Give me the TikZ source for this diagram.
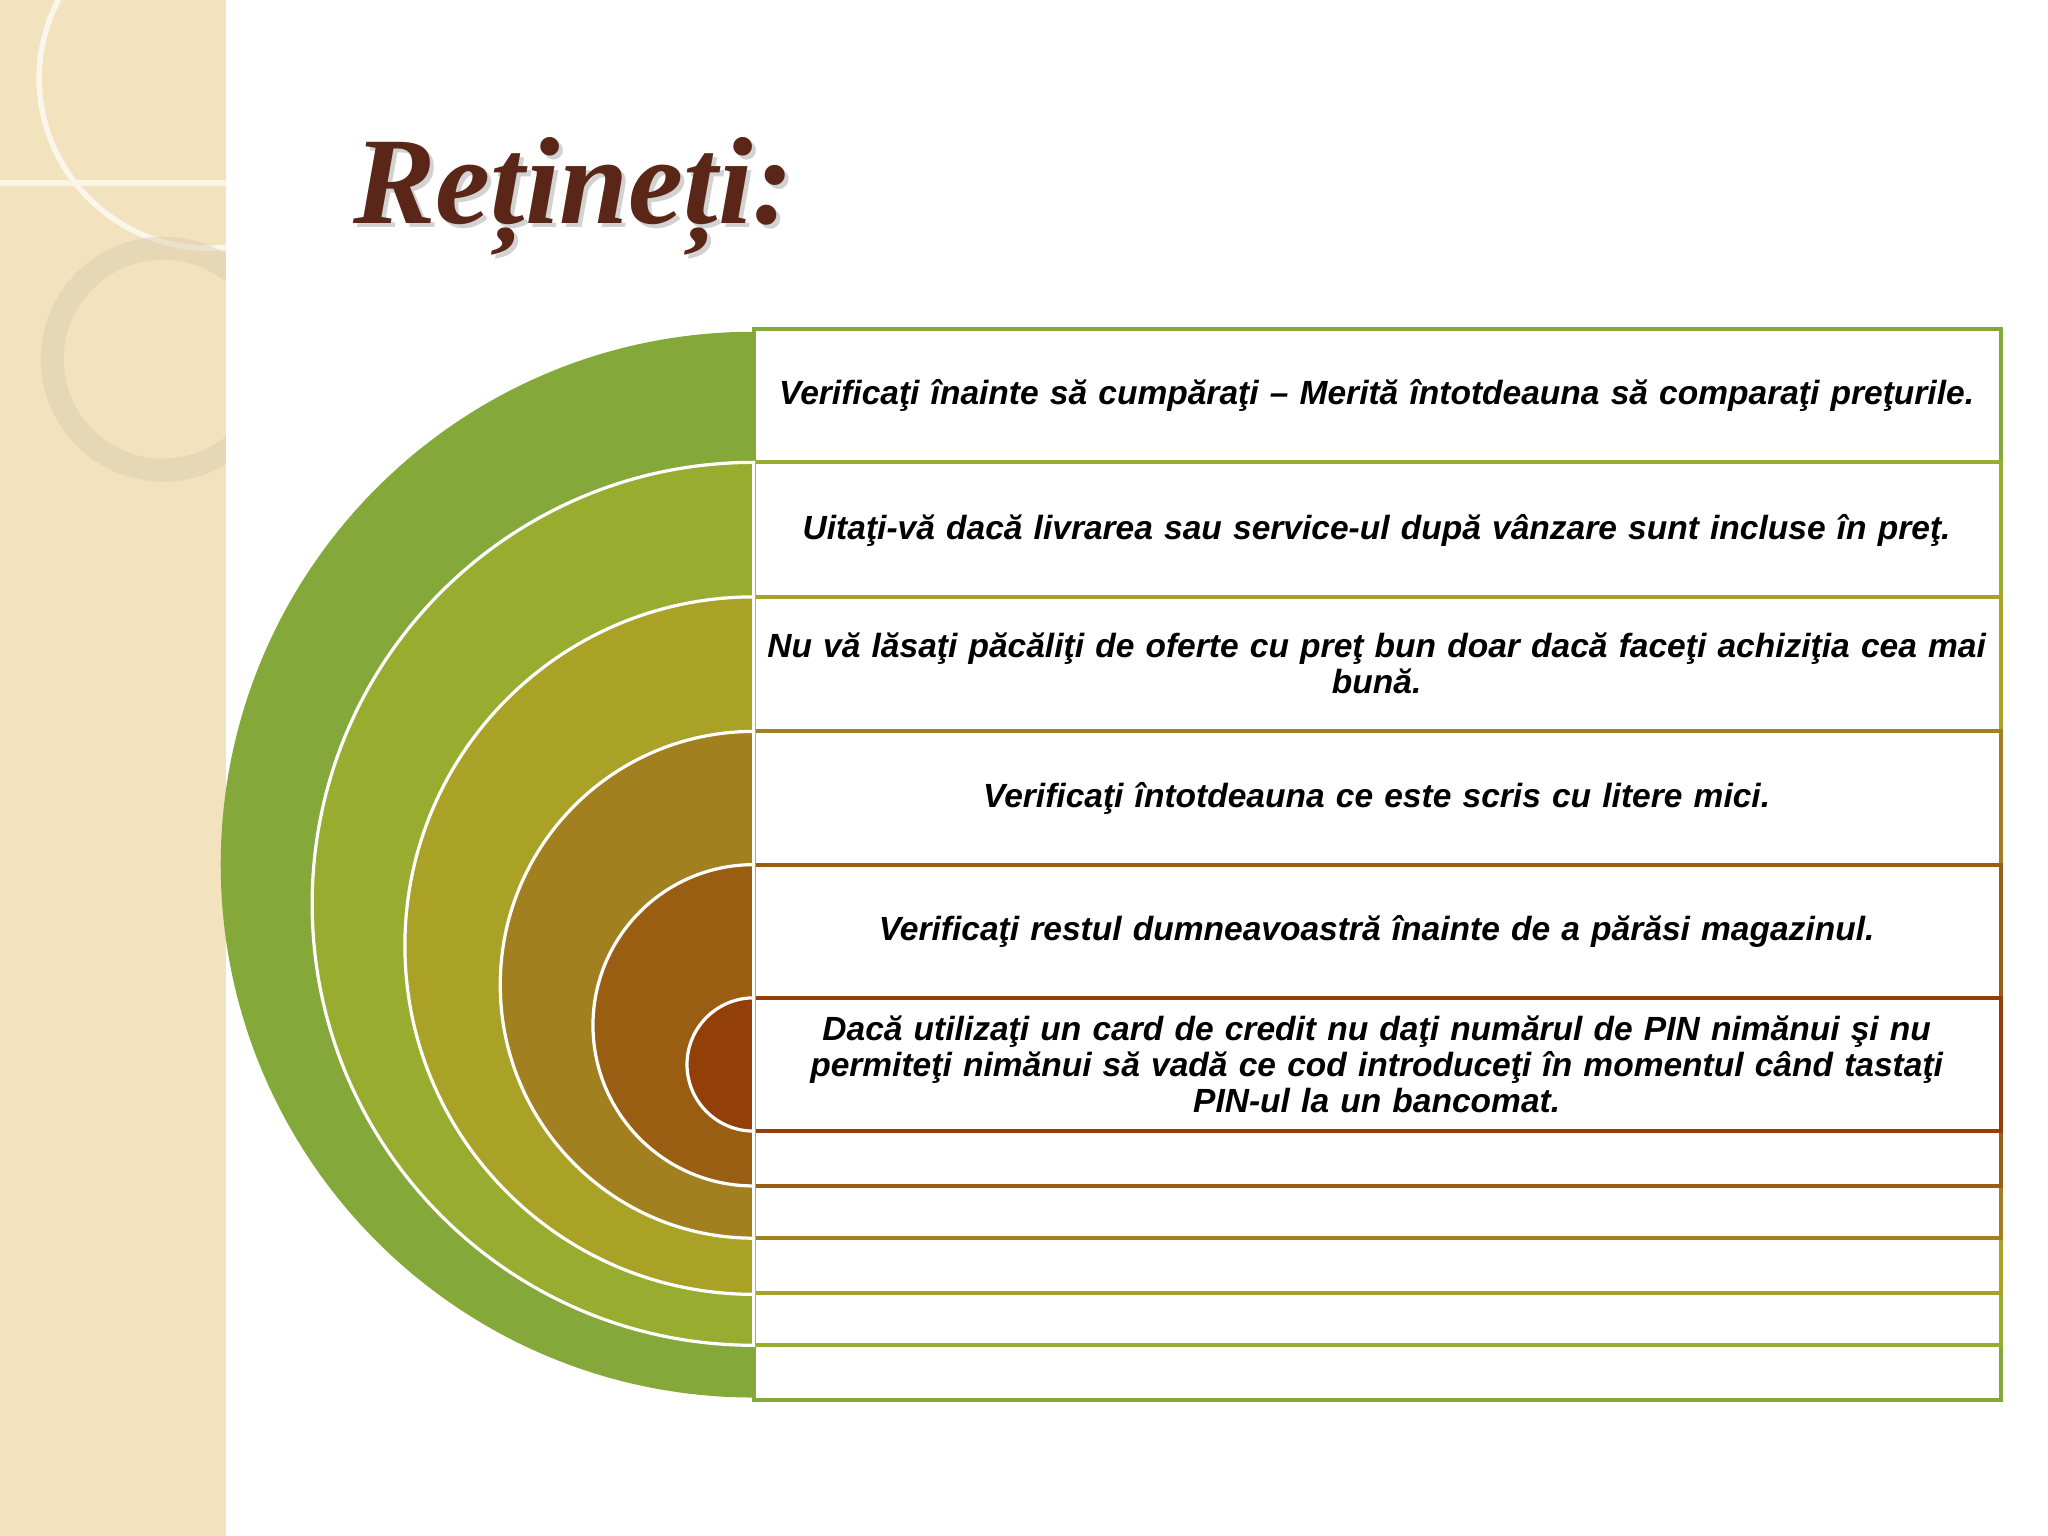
\documentclass[tikz,border=0pt]{standalone}
\usepackage{fontspec}
\setmainfont{Liberation Sans}
\newfontfamily\titlefont{Liberation Serif}
\definecolor{cA}{HTML}{84A83A}
\definecolor{cB}{HTML}{98AC2F}
\definecolor{cC}{HTML}{A9A226}
\definecolor{cD}{HTML}{A2801F}
\definecolor{cE}{HTML}{9A5E12}
\definecolor{cF}{HTML}{933F09}
\definecolor{strip}{HTML}{F2E2BE}
\definecolor{titlec}{HTML}{5A2617}
\tikzset{txt/.style={text width=9.45cm,font={\fontsize{7.3}{7.8}\selectfont\bfseries\itshape},
execute at begin node={\leftskip=0pt plus 1fil\rightskip=0pt plus 1fil\parfillskip=0pt\hyphenpenalty=10000\parindent=0pt}},
arc/.style={draw=white,line width=0.7pt},
box/.style={fill=white,line width=0.9pt}}
\begin{document}
\begin{tikzpicture}[x=0.01cm,y=-0.01cm]
\useasboundingbox (0,0) rectangle (1568,1176);
\fill[strip] (0,0) rectangle (173,1176);
\begin{scope}
\clip (0,0) rectangle (173,1176);
\draw[white!70!strip,line width=1.2pt] (160,60) circle (130);
\draw[white!60!strip,line width=1.2pt] (0,140) -- (173,140);
\draw[strip!80!gray,line width=5pt,opacity=0.5] (125,275) circle (85);
\end{scope}
% boxes
\draw[box,draw=cA] (577,252) rectangle (1532,1072);
\draw[box,draw=cB] (577,354) rectangle (1532,1030);
\draw[box,draw=cC] (577,457) rectangle (1532,990);
\draw[box,draw=cD] (577,560) rectangle (1532,948);
\draw[box,draw=cE] (577,662) rectangle (1532,908);
\draw[box,draw=cF] (577,764) rectangle (1532,866);
% arcs
\fill[cA] (577,254) arc[start angle=-90,end angle=-270,radius=408] -- cycle;
\filldraw[arc,fill=cB] (577,354) arc[start angle=-90,end angle=-270,radius=338] -- cycle;
\filldraw[arc,fill=cC] (577,457) arc[start angle=-90,end angle=-270,radius=267] -- cycle;
\filldraw[arc,fill=cD] (577,560) arc[start angle=-90,end angle=-270,radius=194] -- cycle;
\filldraw[arc,fill=cE] (577,662) arc[start angle=-90,end angle=-270,radius=123] -- cycle;
\filldraw[arc,fill=cF] (577,764) arc[start angle=-90,end angle=-270,radius=51] -- cycle;
% texts
\node[txt] (t1) at (1054,303) {Verificaţi înainte să cumpăraţi – Merită întotdeauna să comparaţi preţurile.};
\node[txt] (t2) at (1054,406) {Uitaţi-vă dacă livrarea sau service-ul după vânzare sunt incluse în preţ.};
\node[txt] (t3) at (1054,508) {Nu vă lăsaţi păcăliţi de oferte cu preţ bun doar dacă faceţi achiziţia cea mai bună.};
\node[txt] (t4) at (1054,611) {Verificaţi întotdeauna ce este scris cu litere mici.};
\node[txt] (t5) at (1054,713) {Verificaţi restul dumneavoastră înainte de a părăsi magazinul.};
\node[txt] (t6) at (1054,815) {Dacă utilizaţi un card de credit nu daţi numărul de PIN nimănui şi nu permiteţi nimănui să vadă ce cod introduceţi în momentul când tastaţi PIN-ul la un bancomat.};
% title
\node[anchor=west,text=gray!35,font=\titlefont\fontsize{27}{30}\selectfont\bfseries\itshape] at (261,153) {Rețineți:};
\node[anchor=west,text=titlec,font=\titlefont\fontsize{27}{30}\selectfont\bfseries\itshape] (title) at (258,150) {Rețineți:};
\end{tikzpicture}
\end{document}
